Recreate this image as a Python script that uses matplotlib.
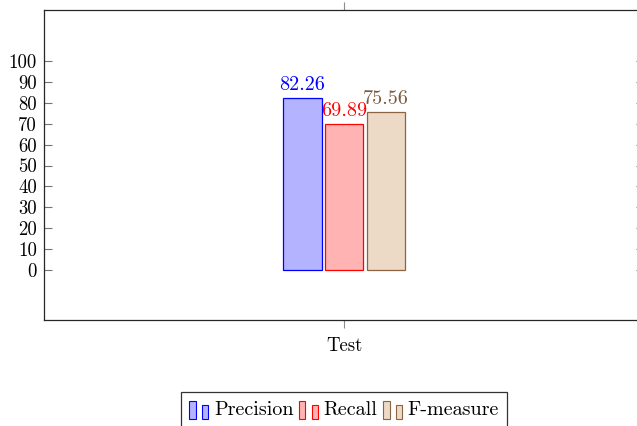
import matplotlib
matplotlib.use("Agg")
import matplotlib.pyplot as plt
from matplotlib.patches import Rectangle
from matplotlib.legend_handler import HandlerBase

plt.rcParams['font.family'] = ['cmr10', 'DejaVu Serif']
plt.rcParams['axes.formatter.use_mathtext'] = True

categories = ['Test']
series_names = ['Precision', 'Recall', 'F-measure']
precision = [82.26]
recall = [69.89]
fmeasure = [75.56]
yticks = [0, 10, 20, 30, 40, 50, 60, 70, 80, 90, 100]

fills = ['#b3b3ff', '#ffb3b3', '#ecd9c6']
edges = ['#0000ff', '#ff0000', '#8a6443']
label_cols = ['#0000ff', '#ff0000', '#7a5a3c']


class TwoBars(HandlerBase):
    def create_artists(self, legend, orig_handle, xdescent, ydescent,
                       width, height, fontsize, trans):
        fc = orig_handle.get_facecolor()
        ec = orig_handle.get_edgecolor()
        x0 = -xdescent
        y0 = -ydescent - 0.2 * height
        h = 1.15 * height
        r1 = Rectangle((x0, y0), 0.36 * width, h, facecolor=fc, edgecolor=ec,
                       linewidth=0.8, transform=trans)
        r2 = Rectangle((x0 + 0.68 * width, y0), 0.32 * width, 0.76 * h,
                       facecolor=fc, edgecolor=ec, linewidth=0.8, transform=trans)
        return [r1, r2]


fig = plt.figure(figsize=(6.37, 4.26), dpi=100)
ax = fig.add_axes([44 / 637, 106 / 426, 600 / 637, 310 / 426])

width = 0.127
step = 0.1385
vals = [precision, recall, fmeasure]
handles = []
for i in range(3):
    xs = [k + (i - 1) * step for k in range(len(categories))]
    bars = ax.bar(xs, vals[i], width, color=fills[i], edgecolor=edges[i],
                  linewidth=0.9, label=series_names[i])
    ax.bar_label(bars, labels=['%.2f' % v for v in vals[i]], padding=3,
                 color=label_cols[i], fontsize=14.5)
    handles.append(bars.patches[0])

ax.set_xlim(-1, 1)
ax.set_ylim(-23.9, 124.4)
ax.set_xticks(range(len(categories)))
ax.set_xticklabels(categories, fontsize=13.5)
ax.set_yticks(yticks)
ax.set_yticklabels([str(t) for t in yticks], fontsize=13.5)
ax.tick_params(axis='y', direction='in', length=6, width=0.8, color='0.45',
               pad=5, right=True)
ax.tick_params(axis='x', direction='out', length=6, width=0.8, color='0.55',
               pad=6, top=True)
for s in ax.spines.values():
    s.set_linewidth(0.9)
    s.set_color('0.15')

leg = fig.legend(handles, series_names, loc='upper center',
                 bbox_to_anchor=(344 / 637, 1 - 392 / 426), ncol=3,
                 handler_map={h: TwoBars() for h in handles},
                 fontsize=14.5, handlelength=0.95, handleheight=0.8,
                 handletextpad=0.3, columnspacing=0.25, borderpad=0.4,
                 borderaxespad=0, fancybox=False, framealpha=1,
                 edgecolor='0.2')
leg.get_frame().set_linewidth(0.9)

fig.savefig('out.png', dpi=100)
